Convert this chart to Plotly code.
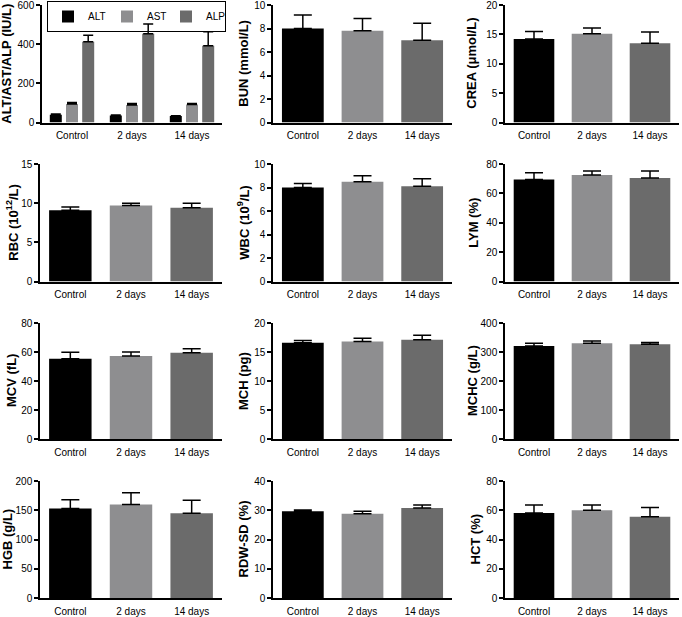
import plotly.graph_objects as go

W, H = 682, 617

categories = ["Control", "2 days", "14 days"]

alt_mean = [40, 36, 33]
alt_err = [3, 2, 2]
ast_mean = [95, 89, 92]
ast_err = [7, 8, 5]
alp_mean = [412, 453, 392]
alp_err = [34, 50, 71]

bun_mean = [8.0, 7.8, 7.0]
bun_err = [1.15, 1.05, 1.45]
crea_mean = [14.2, 15.1, 13.5]
crea_err = [1.3, 1.0, 1.9]
rbc_mean = [9.1, 9.7, 9.4]
rbc_err = [0.4, 0.3, 0.6]
wbc_mean = [8.0, 8.5, 8.1]
wbc_err = [0.35, 0.5, 0.65]
lym_mean = [69.5, 72.5, 70.5]
lym_err = [4.5, 2.7, 4.7]
mcv_mean = [55.3, 57.2, 59.4]
mcv_err = [4.6, 2.8, 2.8]
mch_mean = [16.6, 16.8, 17.1]
mch_err = [0.4, 0.55, 0.8]
mchc_mean = [321, 330, 327]
mchc_err = [9, 8, 6]
hgb_mean = [153, 160, 145]
hgb_err = [15, 20, 22]
rdw_mean = [29.7, 28.8, 30.8]
rdw_err = [0.4, 0.9, 1.0]
hct_mean = [58.2, 60.0, 55.5]
hct_err = [5.4, 3.6, 6.3]

y_labels = ["ALT/AST/ALP (IU/L)", "BUN (mmol/L)", "CREA (μmol/L)",
            "RBC (10<sup>12</sup>/L)", "WBC (10<sup>9</sup>/L)", "LYM (%)",
            "MCV (fL)", "MCH (pg)", "MCHC (g/L)",
            "HGB (g/L)", "RDW-SD (%)", "HCT (%)"]
y_max = [600, 10, 20, 15, 10, 80, 80, 20, 400, 200, 40, 80]
y_dtick = [200, 2, 5, 5, 2, 20, 20, 5, 100, 50, 10, 20]

single = [None, (bun_mean, bun_err), (crea_mean, crea_err),
          (rbc_mean, rbc_err), (wbc_mean, wbc_err), (lym_mean, lym_err),
          (mcv_mean, mcv_err), (mch_mean, mch_err), (mchc_mean, mchc_err),
          (hgb_mean, hgb_err), (rdw_mean, rdw_err), (hct_mean, hct_err)]

BLACK = "#000000"
LIGHT = "#8e8e90"
DARK = "#6b6b6b"
FONT = "Liberation Sans, Arial, sans-serif"

# pixel layout
col_x = [(40, 222), (273, 452), (505, 679)]
row_y = [(5, 122.5), (164, 281.5), (323, 439), (481, 598)]
title_x = [[7, 244, 472], [12, 243, 474], [11, 243, 472], [7, 243, 475]]

fig = go.Figure()
layout = {}
annotations = []

for i in range(12):
    r, c = divmod(i, 3)
    n = i + 1
    xa = "x" if n == 1 else f"x{n}"
    ya = "y" if n == 1 else f"y{n}"
    x0, x1 = col_x[c]
    if i == 0:
        x0 = 42
    y0, y1 = row_y[r]
    layout["xaxis" if n == 1 else f"xaxis{n}"] = dict(
        domain=[x0 / W, x1 / W], anchor=ya, range=[-0.5, 2.5],
        showline=True, linecolor="black", linewidth=1.5, ticks="",
        showgrid=False, zeroline=False, fixedrange=True, automargin=False,
        ticklabelstandoff=3, ticklabeloverflow="allow",
        tickfont=dict(family=FONT, size=10, color="black"),
        categoryorder="array", categoryarray=categories,
    )
    layout["yaxis" if n == 1 else f"yaxis{n}"] = dict(
        domain=[1 - y1 / H, 1 - y0 / H], anchor=xa, range=[0, y_max[i]],
        dtick=y_dtick[i], tick0=0, showline=True, linecolor="black",
        linewidth=1.5, ticks="outside", ticklen=4, tickwidth=1.5,
        tickcolor="black", showgrid=False, zeroline=False, automargin=False,
        ticklabeloverflow="allow", fixedrange=True,
        tickfont=dict(family=FONT, size=10, color="black"),
    )
    annotations.append(dict(
        text=y_labels[i], xref="paper", yref="paper",
        x=title_x[r][c] / W, y=1 - (y0 + y1) / 2 / H,
        xanchor="center", yanchor="middle", textangle=-90, showarrow=False,
        font=dict(family=FONT, size=13, color="black", weight="bold"),
    ))
    if i == 0:
        for name, m, e, col, off in [("ALT", alt_mean, alt_err, BLACK, -0.37),
                                     ("AST", ast_mean, ast_err, LIGHT, -0.10),
                                     ("ALP", alp_mean, alp_err, DARK, 0.17)]:
            fig.add_trace(go.Bar(
                x=categories, y=m, name=name, marker=dict(color=col, line=dict(width=0)),
                width=0.2, offset=off, xaxis=xa, yaxis=ya,
                error_y=dict(type="data", array=e, arrayminus=[0] * 3,
                             symmetric=False, color="black", thickness=1.5, width=5),
            ))
    else:
        m, e = single[i]
        fig.add_trace(go.Bar(
            x=categories, y=m, showlegend=False,
            marker=dict(color=[BLACK, LIGHT, DARK], line=dict(width=0)),
            width=0.7, xaxis=xa, yaxis=ya,
            error_y=dict(type="data", array=e, arrayminus=[0] * 3,
                         symmetric=False, color="black", thickness=1.5, width=9),
        ))

fig.update_layout(
    **layout,
    annotations=annotations,
    width=W, height=H,
    margin=dict(l=0, r=0, t=0, b=0, autoexpand=False),
    paper_bgcolor="white", plot_bgcolor="white",
    barmode="group",
    showlegend=True,
    legend=dict(orientation="h", x=47 / W, y=1 - 1 / H, xanchor="left",
                yanchor="top", bordercolor="black", borderwidth=1,
                bgcolor="rgba(255,255,255,0)",
                font=dict(family=FONT, size=10, color="black"),
                itemwidth=30, tracegroupgap=0, entrywidth=14),
    font=dict(family=FONT, color="black"),
)

fig.write_html("out.html", config={"displayModeBar": False},
               post_script="document.body.style.margin='0px';")
